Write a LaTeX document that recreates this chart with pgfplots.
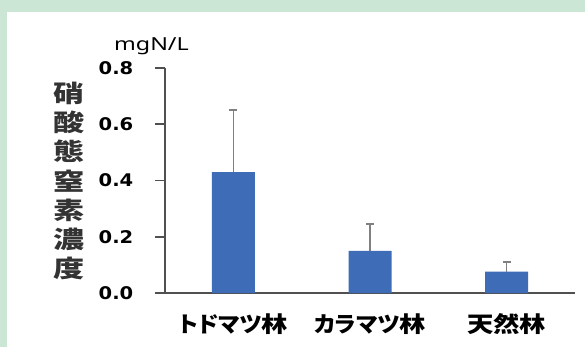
\documentclass[border=0pt]{standalone}
\usepackage{pgfplots}
\pgfplotsset{compat=1.18}
\usepackage{fontspec}
\setmainfont{DejaVu Sans}
\newfontfamily\jp[FakeStretch=1.2,RawFeature=+palt]{Noto Sans CJK JP}
\newfontfamily\kata[FakeStretch=1.05,RawFeature=+palt]{Noto Sans CJK JP}
\newfontfamily\jpy[FakeStretch=1.3]{Noto Sans CJK JP}
\newfontfamily\tickfont[FakeStretch=1.12]{DejaVu Sans}
\newfontfamily\unitfont[FakeStretch=1.3]{Noto Sans}
\definecolor{bggreen}{RGB}{204,230,213}
\definecolor{barblue}{RGB}{62,108,182}
\definecolor{axisgray}{RGB}{80,80,80}
\definecolor{errgray}{RGB}{128,128,128}
\begin{document}
\begin{tikzpicture}[x=1bp,y=1bp]
\fill[bggreen] (0,0) rectangle (585,347);
\fill[white] (7,0) rectangle (585,335);
\useasboundingbox (0,0) rectangle (585,347);
\begin{axis}[
  at={(165bp,54bp)}, anchor=south west,
  scale only axis, width=410bp, height=225bp,
  xmin=-0.5, xmax=2.5, ymin=0, ymax=0.8,
  axis x line=bottom, axis y line=left,
  axis line style={draw=axisgray, line width=1.6bp, -},
  xtick={0,1,2}, xticklabels={{\kata\bfseries トドマツ}林,{\kata\bfseries カラマツ}林,天然林},
  x tick style={draw=none},
  ytick={0,0.2,0.4,0.6,0.8},
  y tick style={draw=axisgray, line width=1.6bp},
  tick align=outside, major tick length=10bp,
  yticklabel style={/pgf/number format/fixed, /pgf/number format/fixed zerofill, /pgf/number format/precision=1, font=\fontsize{17.5}{19}\tickfont\bfseries, anchor=center, xshift=-39bp},
  /pgf/number format/assume math mode=true,
  xticklabel style={font=\fontsize{22}{24}\jp\bfseries, anchor=center, yshift=-21bp},
]
\addplot[ybar, bar width=43bp, fill=barblue, draw=none,
  error bars/.cd, y dir=plus, y explicit,
  error bar style={draw=errgray, line width=1.6bp},
  error mark options={draw=errgray, line width=1.6bp, mark size=4bp, rotate=90}]
  coordinates {(0,0.43) +- (0,0.22) (1,0.15) +- (0,0.095) (2,0.076) +- (0,0.035)};
\end{axis}
\node[anchor=base, font=\fontsize{18}{20}\unitfont] at (151.5,297) {mgN/L};
\node[align=center, font=\fontsize{24}{29.3}\jpy\bfseries, text=black!80, inner sep=0pt] at (69,166) {硝\\酸\\態\\窒\\素\\濃\\度};
\end{tikzpicture}
\end{document}
